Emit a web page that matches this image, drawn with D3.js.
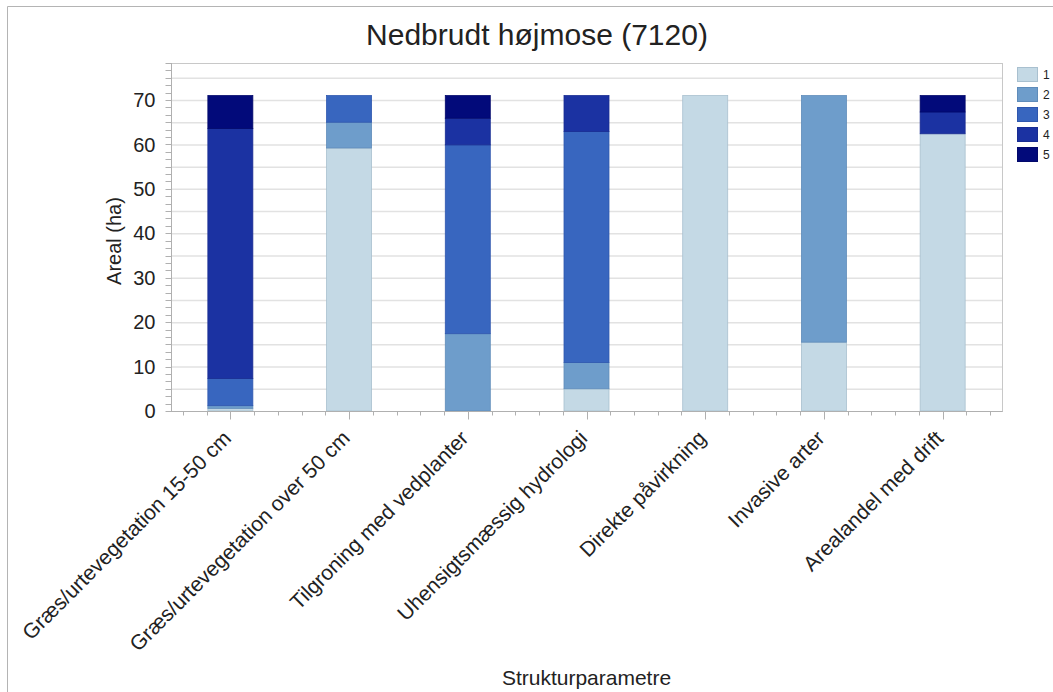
<!DOCTYPE html>
<html>
<head>
<meta charset="utf-8">
<script src="https://cdn.jsdelivr.net/npm/d3@7"></script>
<style>
  body { margin: 0; background: #fff; }
  svg { font-family: "Liberation Sans", Arial, sans-serif; }
</style>
</head>
<body>
<svg id="chart" width="1053" height="692"></svg>
<script>
// Nedbrudt højmose - stacked area per strukturparameter
var categories = ['Græs/urtevegetation 15-50 cm', 'Græs/urtevegetation over 50 cm',
  'Tilgroning med vedplanter', 'Uhensigtsmæssig hydrologi', 'Direkte påvirkning',
  'Invasive arter', 'Arealandel med drift'];
var classes = ['1', '2', '3', '4', '5'];
var s1 = [0.6, 59.2, 0, 5.0, 71, 15.5, 62.4];
var s2 = [0.6, 5.8, 17.4, 5.9, 0, 55.5, 0];
var s3 = [6.1, 6.0, 42.5, 52.0, 0, 0, 0];
var s4 = [56.3, 0, 6.0, 8.1, 0, 0, 4.9];
var s5 = [7.4, 0, 5.1, 0, 0, 0, 3.7];
var yLabels = [0, 10, 20, 30, 40, 50, 60, 70];

var fills = ['#c4d9e5', '#6e9dcb', '#3866bf', '#1b32a2', '#020a7a'];
var strokes = ['#a9c0cf', '#5f8cba', '#2f57ae', '#182c92', '#02086a'];

var svg = d3.select('#chart');
var pLeft = 171, pRight = 1002, pTop = 63, pBottom = 411;

// outer frame
svg.append('path').attr('d', 'M7.5,692 V6.5 H1053')
  .attr('fill', 'none').attr('stroke', '#b4b4b4').attr('stroke-width', 1);

var x = d3.scaleBand().domain(categories).range([pLeft, pRight]).padding(0);
var y = d3.scaleLinear().domain([0, 78.33]).range([pBottom, pTop]);

// rows for stack
var rows = categories.map(function(c, i) {
  return {cat: c, '1': s1[i], '2': s2[i], '3': s3[i], '4': s4[i], '5': s5[i]};
});
var stacked = d3.stack().keys(classes)(rows);

// grid
svg.append('g').selectAll('line').data(d3.range(5, 76, 5)).enter().append('line')
  .attr('x1', pLeft).attr('x2', pRight)
  .attr('y1', function(d) { return y(d) + 0.5; }).attr('y2', function(d) { return y(d) + 0.5; })
  .attr('stroke', '#e2e2e2').attr('stroke-width', 1.5);

// plot frame
svg.append('rect').attr('x', pLeft + 0.5).attr('y', pTop + 0.5)
  .attr('width', pRight - pLeft).attr('height', pBottom - pTop)
  .attr('fill', 'none').attr('stroke', '#c8c8c8');

// bars
var barW = 45;
svg.append('g').selectAll('g').data(stacked).enter().append('g')
  .attr('fill', function(d, i) { return fills[i]; })
  .attr('stroke', function(d, i) { return strokes[i]; })
  .selectAll('rect').data(function(d) { return d.filter(function(p) { return p[1] - p[0] > 0; }); })
  .enter().append('rect')
  .attr('x', function(d) { return x(d.data.cat) + x.bandwidth() / 2 - barW / 2; })
  .attr('y', function(d) { return y(d[1]); })
  .attr('width', barW)
  .attr('height', function(d) { return y(d[0]) - y(d[1]); })
  .attr('stroke-width', 0.8);

// y axis
var yAxis = svg.append('g').attr('transform', 'translate(' + (pLeft + 0.5) + ',0)');
yAxis.append('line').attr('y1', pTop).attr('y2', pBottom + 0.5).attr('stroke', '#b0b0b0');
var minorY = d3.range(0, 79, 5 / 3);
yAxis.selectAll('line.tk').data(minorY).enter().append('line').attr('class', 'tk')
  .attr('x1', -6).attr('x2', 0)
  .attr('y1', function(d) { return Math.round(y(d)) + 0.5; })
  .attr('y2', function(d) { return Math.round(y(d)) + 0.5; })
  .attr('stroke', '#b0b0b0');
yAxis.selectAll('text').data(yLabels).enter().append('text')
  .attr('x', -16).attr('y', function(d) { return y(d); }).attr('dy', '0.36em')
  .attr('text-anchor', 'end').attr('font-size', 20).attr('fill', '#222')
  .text(function(d) { return d; });

// x axis
var xAxis = svg.append('g').attr('transform', 'translate(0,' + (pBottom + 0.5) + ')');
xAxis.append('line').attr('x1', pLeft).attr('x2', pRight + 0.5).attr('stroke', '#b0b0b0');
var step = x.bandwidth() / 5;
var c0 = x(categories[0]) + x.bandwidth() / 2;
var minorX = d3.range(-2, 35).map(function(j) { return c0 + j * step; })
  .filter(function(v) { return v > pLeft + 2 && v < pRight - 2; });
xAxis.selectAll('line.tk').data(minorX).enter().append('line').attr('class', 'tk')
  .attr('x1', function(d) { return Math.round(d) + 0.5; })
  .attr('x2', function(d) { return Math.round(d) + 0.5; })
  .attr('y1', 0).attr('y2', function(d) { return (Math.abs(Math.round((d - c0) / step)) % 5 === 0) ? 8 : 4; })
  .attr('stroke', '#b0b0b0');
xAxis.selectAll('text').data(categories).enter().append('text')
  .attr('transform', function(d) {
    return 'translate(' + (x(d) + x.bandwidth() / 2 + 2) + ',28) rotate(-45)';
  })
  .attr('text-anchor', 'end').attr('font-size', 21).attr('fill', '#222')
  .text(function(d) { return d; });

// titles
svg.append('text').attr('x', 537).attr('y', 45).attr('text-anchor', 'middle')
  .attr('font-size', 30).attr('fill', '#222').text('Nedbrudt højmose (7120)');
svg.append('text').attr('transform', 'translate(121,241) rotate(-90)')
  .attr('text-anchor', 'middle').attr('font-size', 20).attr('fill', '#222').text('Areal (ha)');
svg.append('text').attr('x', (pLeft + pRight) / 2).attr('y', 685).attr('text-anchor', 'middle')
  .attr('font-size', 21).attr('fill', '#222').text('Strukturparametre');

// legend
var lg = svg.append('g').attr('transform', 'translate(1017,67)');
var item = lg.selectAll('g').data(classes).enter().append('g')
  .attr('transform', function(d, i) { return 'translate(0,' + (i * 20) + ')'; });
item.append('rect').attr('x', 0.5).attr('y', 0.5).attr('width', 20).attr('height', 14)
  .attr('fill', function(d, i) { return fills[i]; })
  .attr('stroke', function(d, i) { return strokes[i]; });
item.append('text').attr('x', 26).attr('y', 7.5).attr('dy', '0.35em')
  .attr('font-size', 12).attr('fill', '#222').text(function(d) { return d; });
</script>
</body>
</html>
